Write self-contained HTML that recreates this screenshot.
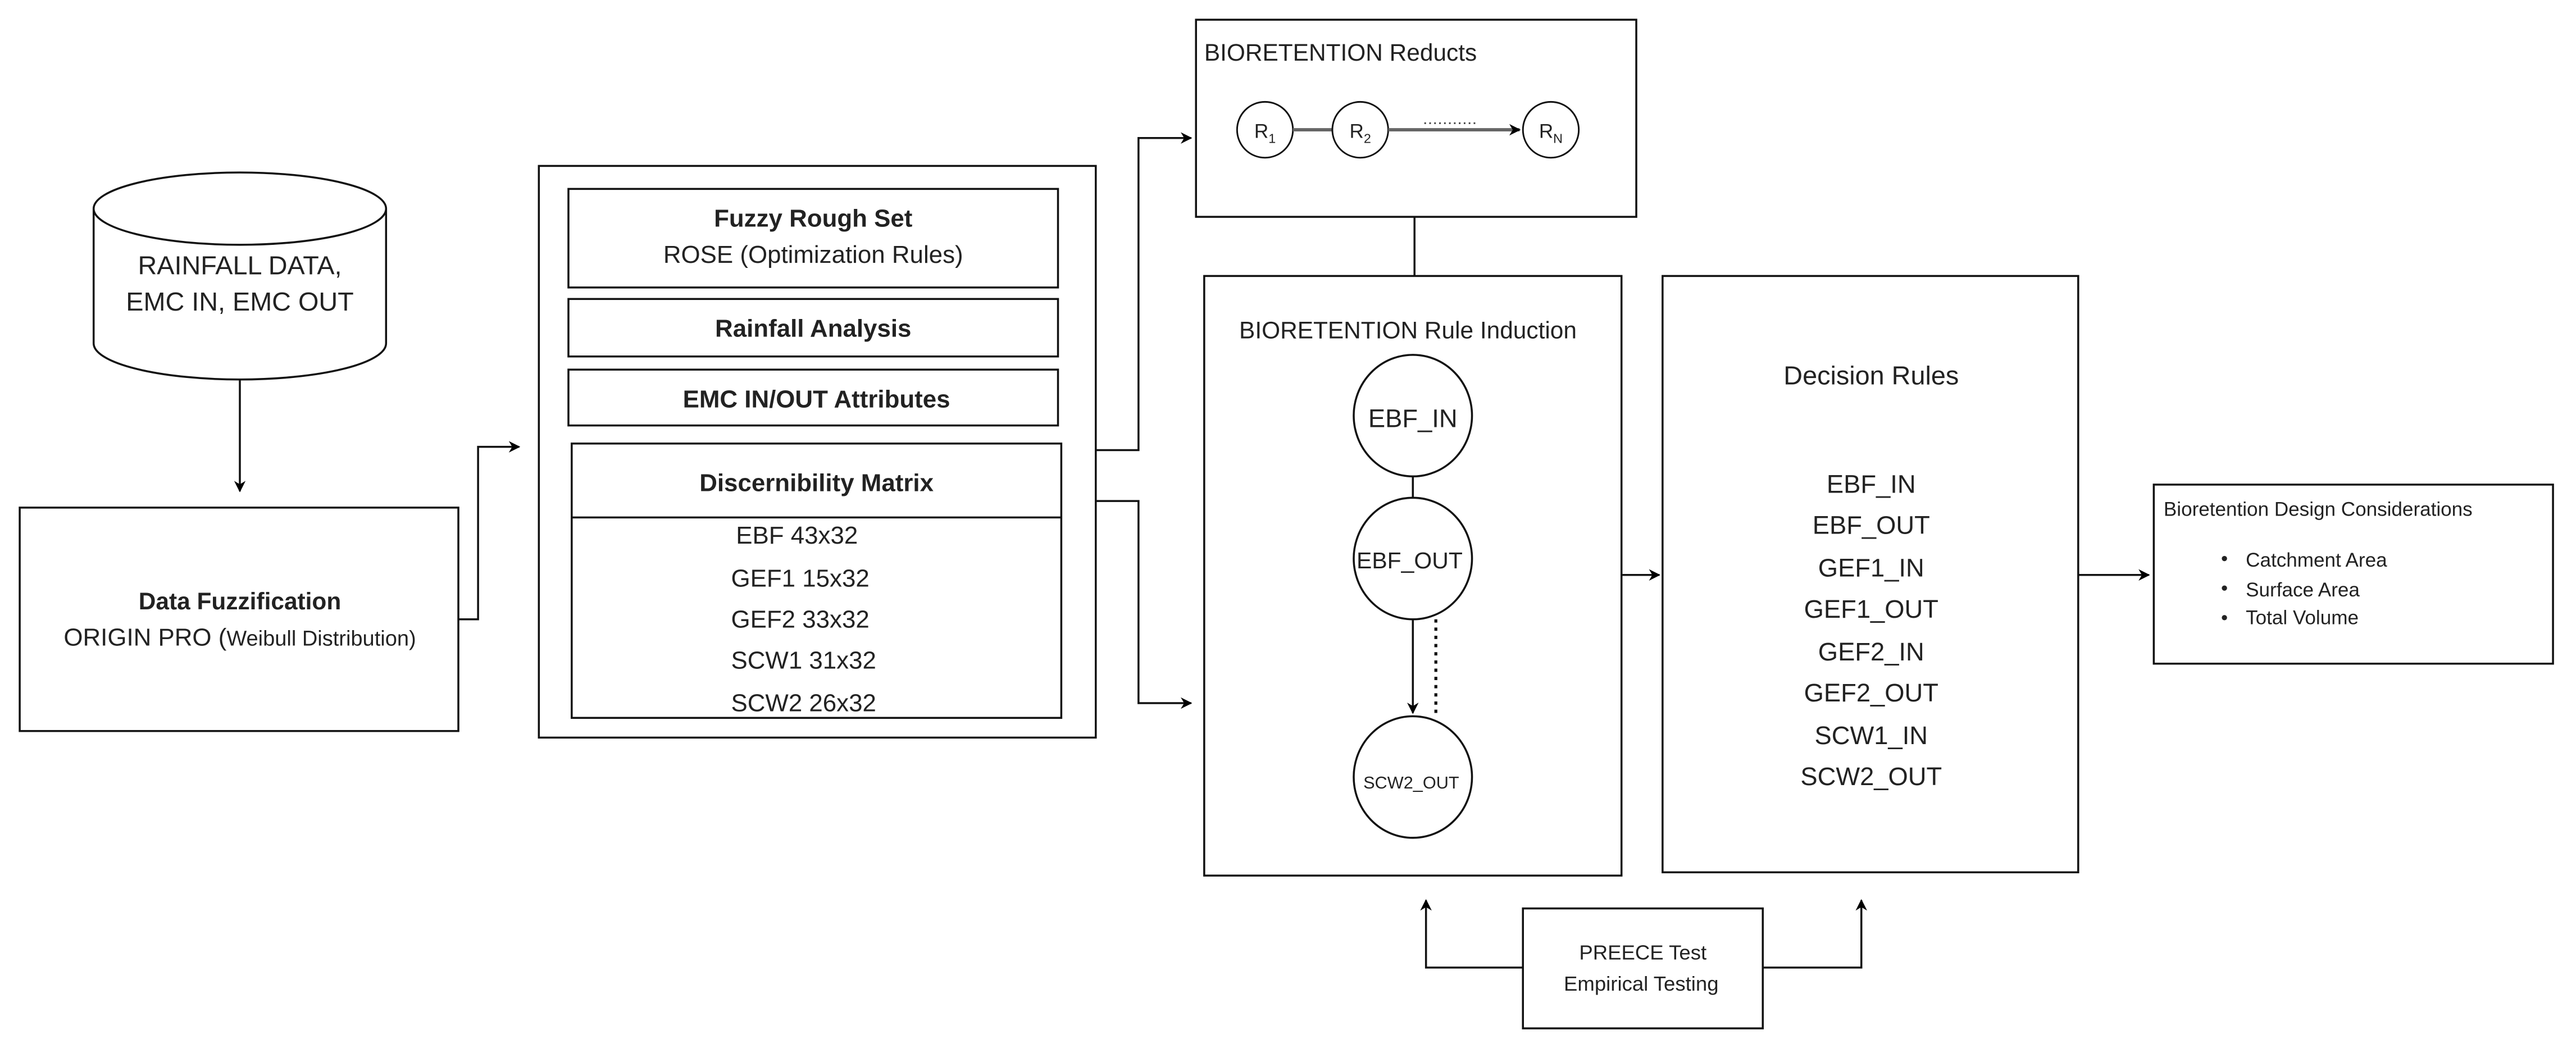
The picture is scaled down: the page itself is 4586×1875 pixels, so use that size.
<!DOCTYPE html>
<html><head><meta charset="utf-8"><style>
html,body{margin:0;padding:0;background:#fff;}
svg{display:block;}
text{font-family:"Liberation Sans",sans-serif;fill:#222;}
</style></head><body>
<svg width="4586" height="1875" viewBox="0 0 1568 641" preserveAspectRatio="none" xmlns="http://www.w3.org/2000/svg">
<defs>
<marker id="a" viewBox="0 0 10 10" refX="9" refY="5" markerWidth="7" markerHeight="7" orient="auto" markerUnits="userSpaceOnUse"><path d="M0,0 L10,5 L0,10 L3,5 z" fill="#000"/></marker>
</defs>
<g fill="none" stroke="#111" stroke-width="1.2">
<path d="M57,127 L57,209 A89,22 0 0 0 235,209 L235,127"/>
<ellipse cx="146" cy="127" rx="89" ry="22"/>
<line x1="146" y1="231" x2="146" y2="299" marker-end="url(#a)"/>
<rect x="12" y="309" width="267" height="136"/>
<polyline points="279,377 291,377 291,272 316,272" marker-end="url(#a)"/>
<rect x="328" y="101" width="339" height="348"/>
<rect x="346" y="115" width="298" height="60"/>
<rect x="346" y="182" width="298" height="35"/>
<rect x="346" y="225" width="298" height="34"/>
<rect x="348" y="270" width="298" height="167"/>
<line x1="348" y1="315" x2="646" y2="315"/>
<polyline points="667,274 693,274 693,84 725,84" marker-end="url(#a)"/>
<polyline points="667,305 693,305 693,428 725,428" marker-end="url(#a)"/>
<rect x="728" y="12" width="268" height="120"/>
<line x1="861" y1="132" x2="861" y2="168"/>
<rect x="733" y="168" width="254" height="365"/>
<ellipse cx="860" cy="253" rx="36" ry="37"/>
<line x1="860" y1="290" x2="860" y2="303"/>
<ellipse cx="860" cy="340" rx="36" ry="37"/>
<line x1="860" y1="377" x2="860" y2="434" marker-end="url(#a)"/>
<line x1="874" y1="377" x2="874" y2="436" stroke-dasharray="2,3" stroke-width="1.8"/>
<ellipse cx="860" cy="473" rx="36" ry="37"/>
<line x1="987" y1="350" x2="1010" y2="350" marker-end="url(#a)"/>
<rect x="1012" y="168" width="253" height="363"/>
<line x1="1265" y1="350" x2="1308" y2="350" marker-end="url(#a)"/>
<rect x="1311" y="295" width="243" height="109"/>
<rect x="927" y="553" width="146" height="73"/>
<polyline points="927,589 868,589 868,548" marker-end="url(#a)"/>
<polyline points="1073,589 1133,589 1133,548" marker-end="url(#a)"/>
</g>
<g fill="#fff" stroke="#111" stroke-width="1">
<circle cx="770" cy="79" r="17"/>
<line x1="787" y1="79" x2="811" y2="79" stroke="#666" stroke-width="2"/>
<circle cx="828" cy="79" r="17"/>
<line x1="845" y1="79" x2="925" y2="79" stroke="#666" stroke-width="2" marker-end="url(#a)"/>
<line x1="867" y1="75" x2="899" y2="75" stroke="#444" stroke-dasharray="1,2"/>
<circle cx="944" cy="79" r="17"/>
</g>
<g font-size="16">
<text x="146" y="167" text-anchor="middle">RAINFALL DATA,</text>
<text x="146" y="189" text-anchor="middle">EMC IN, EMC OUT</text>
</g>
<text x="146" y="371" text-anchor="middle" font-size="14.5" font-weight="bold">Data Fuzzification</text>
<text x="146" y="393" text-anchor="middle" font-size="15">ORIGIN PRO (<tspan font-size="13">Weibull Distribution)</tspan></text>
<g font-size="15" text-anchor="middle">
<text x="495" y="138" font-weight="bold">Fuzzy Rough Set</text>
<text x="495" y="160">ROSE (Optimization Rules)</text>
<text x="495" y="205" font-weight="bold">Rainfall Analysis</text>
<text x="497" y="248" font-weight="bold">EMC IN/OUT Attributes</text>
<text x="497" y="299" font-weight="bold">Discernibility Matrix</text>
</g>
<g font-size="15" xml:space="preserve">
<text x="448" y="331">EBF   43x32</text>
<text x="445" y="357">GEF1  15x32</text>
<text x="445" y="382">GEF2  33x32</text>
<text x="445" y="407">SCW1 31x32</text>
<text x="445" y="433">SCW2 26x32</text>
</g>
<text x="733" y="37" font-size="14.5">BIORETENTION Reducts</text>
<g font-size="12" text-anchor="middle">
<text x="770" y="84">R<tspan font-size="8" dy="3">1</tspan></text>
<text x="828" y="84">R<tspan font-size="8" dy="3">2</tspan></text>
<text x="944" y="84">R<tspan font-size="8" dy="3">N</tspan></text>
</g>
<text x="857" y="206" font-size="14.5" text-anchor="middle">BIORETENTION Rule Induction</text>
<text x="860" y="260" font-size="15.5" text-anchor="middle">EBF_IN</text>
<text x="858" y="346" font-size="14" text-anchor="middle">EBF_OUT</text>
<text x="859" y="480" font-size="10.5" text-anchor="middle">SCW2_OUT</text>
<text x="1139" y="234" font-size="16" text-anchor="middle">Decision Rules</text>
<g font-size="15.5" text-anchor="middle">
<text x="1139" y="300">EBF_IN</text>
<text x="1139" y="325">EBF_OUT</text>
<text x="1139" y="351">GEF1_IN</text>
<text x="1139" y="376">GEF1_OUT</text>
<text x="1139" y="402">GEF2_IN</text>
<text x="1139" y="427">GEF2_OUT</text>
<text x="1139" y="453">SCW1_IN</text>
<text x="1139" y="478">SCW2_OUT</text>
</g>
<text x="1317" y="314" font-size="12">Bioretention Design Considerations</text>
<g font-size="12">
<circle cx="1354" cy="340" r="1.6" fill="#222"/><text x="1367" y="345">Catchment Area</text>
<circle cx="1354" cy="358" r="1.6" fill="#222"/><text x="1367" y="363">Surface Area</text>
<circle cx="1354" cy="376" r="1.6" fill="#222"/><text x="1367" y="380">Total Volume</text>
</g>
<text x="1000" y="584" font-size="12.5" text-anchor="middle">PREECE Test</text>
<text x="999" y="603" font-size="12.5" text-anchor="middle">Empirical Testing</text>
</svg>
</body></html>
